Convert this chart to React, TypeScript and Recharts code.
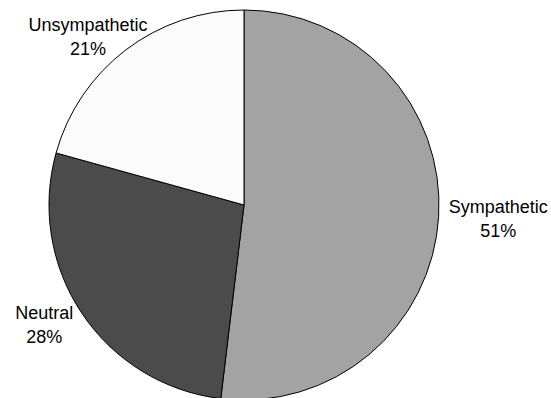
import { Cell, Pie, PieChart } from "recharts";

// Slice shares (angles), and the printed labels.
const categories = ["Sympathetic", "Neutral", "Unsympathetic"];
const shares = [51.9, 27.4, 20.7];
const percentLabels = ["51%", "28%", "21%"];
const sliceColors = ["#a3a3a3", "#4b4b4b", "#fbfbfb"];
// small vertical nudges so the labels sit where the original placed them
const labelNudgeY = [0, -13, 0];

const data = categories.map((name, i) => ({
  name,
  value: shares[i],
  pct: percentLabels[i],
  nudge: labelNudgeY[i],
}));

const WIDTH = 551;
const HEIGHT = 398;
const FONT = "'Liberation Sans', Arial, sans-serif";
const FONT_SIZE = 18;
const LINE_GAP = 24;
const RADIAN = Math.PI / 180;

let ctx: CanvasRenderingContext2D | null = null;
function textWidth(s: string) {
  if (!ctx) ctx = document.createElement("canvas").getContext("2d");
  if (!ctx) return s.length * 9;
  ctx.font = `${FONT_SIZE}px ${FONT}`;
  return ctx.measureText(s).width;
}

// Excel-style label: placed just outside the slice along its mid angle,
// then kept inside the chart area.
function renderLabel(props: any) {
  const { cx, cy, midAngle, outerRadius, name, payload } = props;
  const lines = [name, payload.pct];
  const w = Math.max(...lines.map(textWidth));
  const h = LINE_GAP + FONT_SIZE + 2;
  const dx = Math.cos(-midAngle * RADIAN);
  const dy = Math.sin(-midAngle * RADIAN);
  const extent = Math.abs(dx) * (w / 2) + Math.abs(dy) * (h / 2);
  const dist = outerRadius + extent + 9;
  let x = cx + dx * dist;
  let y = cy + dy * dist + (payload.nudge || 0);
  const pad = 16;
  if (y - h / 2 < pad) y = pad + h / 2;
  if (y + h / 2 > HEIGHT - pad) y = HEIGHT - pad - h / 2;
  if (x - w / 2 < 4) x = 4 + w / 2;
  if (x + w / 2 > WIDTH - 3) x = WIDTH - 3 - w / 2;
  const top = y - h / 2 + FONT_SIZE - 3;
  return (
    <text
      x={x}
      y={top}
      textAnchor="middle"
      fill="#000"
      fontFamily={FONT}
      fontSize={FONT_SIZE}
    >
      {lines.map((l, i) => (
        <tspan key={i} x={x} y={top + i * LINE_GAP}>
          {l}
        </tspan>
      ))}
    </text>
  );
}

export default function App() {
  return (
    <div
      style={{
        position: "absolute",
        left: 0,
        top: 0,
        width: WIDTH,
        height: HEIGHT,
        background: "#fff",
        overflow: "hidden",
      }}
    >
      <PieChart width={WIDTH} height={HEIGHT} margin={{ top: 0, right: 0, bottom: 0, left: 0 }}>
        <Pie
          data={data}
          dataKey="value"
          nameKey="name"
          cx={244}
          cy={205}
          outerRadius={195}
          startAngle={90}
          endAngle={-270}
          stroke="#000"
          strokeWidth={1}
          label={renderLabel}
          labelLine={false}
          isAnimationActive={false}
        >
          {data.map((d, i) => (
            <Cell key={d.name} fill={sliceColors[i]} />
          ))}
        </Pie>
      </PieChart>
    </div>
  );
}
